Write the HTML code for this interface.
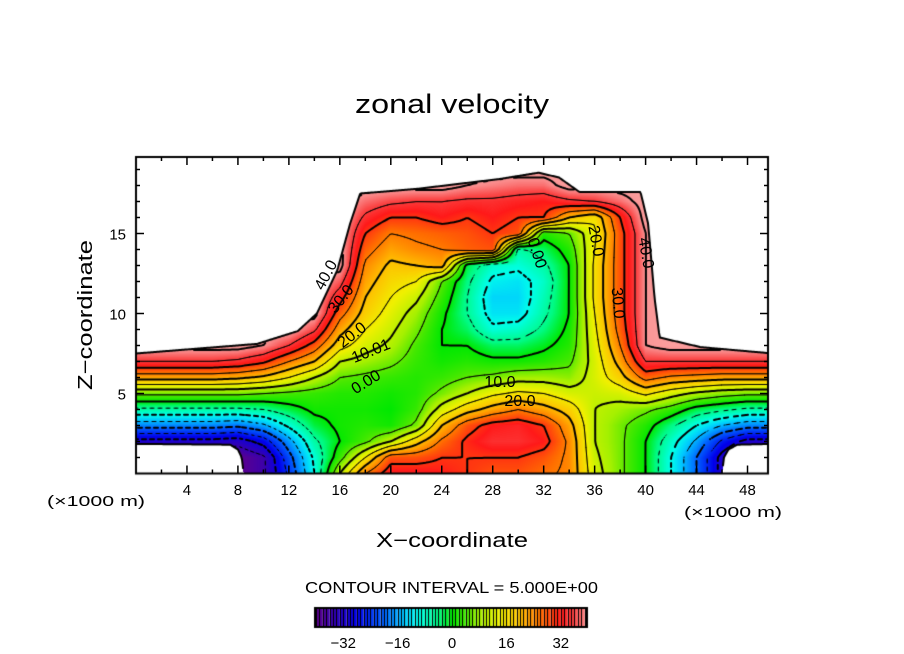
<!DOCTYPE html>
<html><head><meta charset="utf-8">
<style>
html,body{margin:0;padding:0;background:#fff;}
#wrap{position:relative;width:904px;height:654px;overflow:hidden;font-family:"Liberation Sans",sans-serif;}
canvas,svg{position:absolute;left:0;top:0;}
</style></head>
<body>
<div id="wrap">
<canvas id="field" width="904" height="654"></canvas>
<svg id="ov" width="904" height="654" font-family="Liberation Sans, sans-serif">
  <text x="355" y="113" font-size="27" textLength="194" lengthAdjust="spacingAndGlyphs">zonal velocity</text>
  <text transform="translate(92,315) rotate(-90)" text-anchor="middle" font-size="20" textLength="150" lengthAdjust="spacingAndGlyphs">Z−coordinate</text>
  <text x="376" y="547" font-size="20" textLength="152" lengthAdjust="spacingAndGlyphs">X−coordinate</text>
  <text x="47" y="506" font-size="15" textLength="98" lengthAdjust="spacingAndGlyphs">(×1000 m)</text>
  <text x="684" y="517" font-size="15" textLength="98" lengthAdjust="spacingAndGlyphs">(×1000 m)</text>
  <text x="305" y="593" font-size="16" textLength="293" lengthAdjust="spacingAndGlyphs">CONTOUR INTERVAL = 5.000E+00</text>
  <g id="ticks"></g>
  <g id="clabels" font-size="16"></g>
  <g id="cbar"></g>
</svg>
</div>
<script>
// ---- data ----
const xCoords = [0,2,4,6,8,10,12,14,16,18,20,22,24,26,28,30,32,34,36,38,40,42,44,46,48,50];
const zCoords = [0,1,2,3,4,5,6,7,8,9,10,11,12,13,14,15,16,17,18,19,20];
// zonal velocity per x column, z = 0..20
const colX0  = [-40,-40,-32,-18,-6,6,22,35,42,42,42,42,42,42,42,42,42,42,42,42,42];
const colX8  = [-40,-40,-33,-19,-6,6,21,34,42,42,42,42,42,42,42,42,42,42,42,42,42];
const colX10 = [-36,-36,-28,-16,-5,5,19,31,40,42,42,42,42,42,42,42,42,42,42,42,42];
const colX12 = [-24,-22,-17,-9,-2,4,15,25,35,42,42,42,42,42,42,42,42,42,42,42,42];
const colX14 = [-10,-9,-6,-2,1,3,10,20,28,36,42,42,42,42,42,42,42,42,42,42,42];
const colX16 = [10,3,0,1,1,2,5,10,17,22,27,32,37,42,42,42,42,42,42,42,42];
const colX18 = [25,15,4,2,1,2,4,8,12,15,18,20,22,24,27,30,34,38,42,42,42];
const colX20 = [33,28,10,1,0,1,3,6,9,11,13,15,17,19,22,25,30,36,42,42,42];
const colX22 = [33,28,18,6,3,2,2,3,4,6,8,11,15,20,24,26,30,35,42,42,42];
const colX24 = [32,30,26,20,12,6,3,1,0,0,1,3,5,22,25,27,32,35,42,42,42];
const colX26 = [30,30,31,28,18,10,5,2,0,-3,-5,-5,-4,-2,27,28,30,34,40,42,42];
const colX28 = [28,30,34,32,22,14,6,1,-3,-9,-12,-13,-11,-8,28,30,32,34,39,42,42];
const colX30 = [28,30,34,33,25,16,8,1,-3,-8,-12,-13,-12,-9,-6,28,30,33,38,42,42];
const colX32 = [26,28,32,30,22,15,8,2,-1,-4,-6,-7,-8,-6,-3,2,30,32,38,42,42];
const colX34 = [24,24,24,22,18,12,7,4,2,1,0,0,0,0,2,5,20,34,42,42,42];
const colX36 = [12,11,10,10,10,11,12,12,13,14,15,16,16,16,15,14,16,35,42,42,42];
const colX38 = [6,6,6,6,8,12,18,22,25,27,28,28,28,28,28,28,30,38,42,42,42];
const colX40 = [0,0,0,2,6,16,27,35,40,40,40,40,40,40,40,40,42,42,42,42,42];
const colX42 = [-10,-10,-8,-4,3,12,24,35,42,42,42,42,42,42,42,42,42,42,42,42,42];
const colX44 = [-20,-20,-16,-10,-2,9,23,35,42,42,42,42,42,42,42,42,42,42,42,42,42];
const colX46 = [-32,-32,-26,-15,-4,7,22,35,42,42,42,42,42,42,42,42,42,42,42,42,42];
const colX48 = [-40,-40,-32,-18,-6,6,22,35,42,42,42,42,42,42,42,42,42,42,42,42,42];
const zonal = [colX0,colX0,colX0,colX0,colX8,colX10,colX12,colX14,colX16,colX18,colX20,colX22,colX24,colX26,colX28,colX30,colX32,colX34,colX36,colX38,colX40,colX42,colX44,colX46,colX48,colX48];
// domain boundaries
const topX = [0,9.5,12.7,14.2,15.8,16.8,17.6,22.2,25.3,28.5,31.6,33.2,34.8,39.6,40.2,40.7,41.1,44.3,50];
const topZ = [7.5,8.1,8.9,10,12.7,15.6,17.5,17.8,18.1,18.4,18.8,18.5,17.6,17.6,15.6,11,8.5,7.9,7.5];
const botX = [0,7.4,8.0,8.3,8.45,46.0,46.15,46.5,47.2,50];
const botZ = [1.85,1.8,1.5,1.0,0,0,1.0,1.5,1.8,1.85];
const xTicks = [4,8,12,16,20,24,28,32,36,40,44,48];
const zTicks = [5,10,15];
const cbTicks = [-32,-16,0,16,32];
const levels = [-35,-30,-25,-20,-15,-10,-5,0,5,10,15,20,25,30,35,40];

// ---- axes ----
const X0=136, X1=768, Y0=157, Y1=473.5, PXU=12.74, PZU=16;
const sx = x => X0 + x*PXU;
const sz = z => Y1 - z*PZU;
const cbx = v => 452 + v*3.4;

function interp(xs, ys, x){
  if (x<=xs[0]) return ys[0];
  for (let i=1;i<xs.length;i++) if (x<=xs[i]) { const t=(x-xs[i-1])/(xs[i]-xs[i-1]); return ys[i-1]+t*(ys[i]-ys[i-1]); }
  return ys[ys.length-1];
}
function field(x,z){
  let gi = Math.min(Math.max(x/2,0),24.9999), gj = Math.min(Math.max(z,0),19.9999);
  const i=Math.floor(gi), j=Math.floor(gj), tx=gi-i, tz=gj-j;
  const a=zonal[i][j], b=zonal[i+1][j], c=zonal[i][j+1], d=zonal[i+1][j+1];
  return (a*(1-tx)+b*tx)*(1-tz)+(c*(1-tx)+d*tx)*tz;
}
function inside(x,z){ return z<=interp(topX,topZ,x) && z>=interp(botX,botZ,x); }
const stops=[[-40,[95,0,140]],[-34,[45,0,185]],[-28,[0,0,235]],[-20,[0,100,255]],[-14,[0,200,255]],[-10,[0,255,235]],[-4,[0,250,130]],[0,[0,232,0]],[4,[70,232,0]],[8,[165,240,0]],[14,[240,240,0]],[20,[255,190,0]],[26,[255,110,0]],[32,[255,25,25]],[36,[250,70,70]],[40,[250,150,150]],[46,[255,175,175]]];
function cmap(v){
  if (v<=stops[0][0]) return stops[0][1];
  for (let k=1;k<stops.length;k++) if (v<=stops[k][0]) { const t=(v-stops[k-1][0])/(stops[k][0]-stops[k-1][0]); const A=stops[k-1][1],B=stops[k][1]; return [A[0]+t*(B[0]-A[0]),A[1]+t*(B[1]-A[1]),A[2]+t*(B[2]-A[2])]; }
  return stops[stops.length-1][1];
}

const cv=document.getElementById('field'); const ctx=cv.getContext('2d');
const W=X1-X0, H=Math.round(Y1-Y0);
const img=ctx.createImageData(W,H);
for (let py=0;py<H;py++) for (let px=0;px<W;px++){
  const x=(px+0.5)/PXU, z=(Y1-(Y0+py+0.5))/PZU; const o=(py*W+px)*4;
  if (inside(x,z)) { const c=cmap(field(x,z)); img.data[o]=c[0]; img.data[o+1]=c[1]; img.data[o+2]=c[2]; }
  else { img.data[o]=255; img.data[o+1]=255; img.data[o+2]=255; }
  img.data[o+3]=255;
}
ctx.putImageData(img,X0,Y0);

// contours via marching squares
const S=2, NI=Math.ceil(W/S), NJ=Math.ceil(H/S);
const F=[];
for (let i=0;i<=NI;i++){ F.push([]); for (let j=0;j<=NJ;j++){ const x=(i*S)/PXU, z=(Y1-(Y0+j*S))/PZU; F[i].push(inside(x,z)?field(x,z):NaN); } }
ctx.lineCap='round';
for (const L of levels){
  ctx.beginPath();
  ctx.lineWidth = (L%10===0)?2:1;
  ctx.strokeStyle='#000';
  for (let i=0;i<NI;i++) for (let j=0;j<NJ;j++){
    const v=[F[i][j],F[i+1][j],F[i+1][j+1],F[i][j+1]];
    if (v.some(isNaN)) continue;
    if (L<0 && (Math.floor((i+j)/2)%2===1)) continue;
    const p=[[i,j],[i+1,j],[i+1,j+1],[i,j+1]];
    const pts=[];
    for (let e=0;e<4;e++){ const a=v[e], b=v[(e+1)%4]; if ((a<L)!==(b<L)){ const t=(L-a)/(b-a); const A=p[e],B=p[(e+1)%4]; pts.push([X0+(A[0]+t*(B[0]-A[0]))*S, Y0+(A[1]+t*(B[1]-A[1]))*S]); } }
    if (pts.length>=2){ ctx.moveTo(pts[0][0],pts[0][1]); ctx.lineTo(pts[1][0],pts[1][1]); }
    if (pts.length===4){ ctx.moveTo(pts[2][0],pts[2][1]); ctx.lineTo(pts[3][0],pts[3][1]); }
  }
  ctx.stroke();
}
// boundary outlines
ctx.lineWidth=2; ctx.strokeStyle='#000';
ctx.beginPath();
for (let px=0;px<=W;px++){ const x=px/PXU; const y=sz(interp(topX,topZ,x)); px?ctx.lineTo(X0+px,y):ctx.moveTo(X0+px,y); }
ctx.stroke();
ctx.beginPath(); let on=false;
for (let px=0;px<=W;px++){ const x=px/PXU; const b=interp(botX,botZ,x); if (b>0){ const y=sz(b); on?ctx.lineTo(X0+px,y):ctx.moveTo(X0+px,y); on=true;} else on=false; }
ctx.stroke();
// frame
ctx.lineWidth=2; ctx.strokeRect(X0,Y0,W,Y1-Y0);

// colorbar
for (let v=-40; v<40; v++){ const c=cmap(v+0.5); ctx.fillStyle=`rgb(${c[0]|0},${c[1]|0},${c[2]|0})`; ctx.fillRect(cbx(v),608,3.4,19); ctx.fillStyle='#000'; ctx.fillRect(Math.round(cbx(v)),608,1,19); }
ctx.lineWidth=2; ctx.strokeRect(315,608,272,19);

// ticks & labels
const NS='http://www.w3.org/2000/svg';
const tg=document.getElementById('ticks');
function line(x1,y1,x2,y2,name){ const l=document.createElementNS(NS,'line'); l.setAttribute('x1',x1);l.setAttribute('y1',y1);l.setAttribute('x2',x2);l.setAttribute('y2',y2);l.setAttribute('stroke','#000');l.setAttribute('stroke-width','1.5');
 
 
 tg.appendChild(l); }
function txt(x,y,s,size,anchor,name,parent){ const t=document.createElementNS(NS,'text'); t.setAttribute('x',x);t.setAttribute('y',y);t.setAttribute('font-size',size);t.setAttribute('text-anchor',anchor);t.textContent=s;
 
 
 (parent||tg).appendChild(t); return t; }
for (let x=2;x<50;x+=2){ const major=x%4===0, len=major?8:4; line(sx(x),Y1,sx(x),Y1-len,'x-tick'); line(sx(x),Y0,sx(x),Y0+len,'x-tick'); }
for (const x of xTicks) txt(sx(x),495,String(x),15,'middle','x-tick-label');
for (let z=1;z<20;z++){ const major=z%5===0, len=major?8:4; line(X0,sz(z),X0+len,sz(z),'z-tick'); line(X1,sz(z),X1-len,sz(z),'z-tick'); }
for (const z of zTicks) txt(126,sz(z)+6,String(z),15,'end','z-tick-label');
const cg=document.getElementById('cbar');
for (const v of cbTicks) txt(cbx(v),648,(v<0?'−':'')+Math.abs(v),15,'middle','colorbar-tick-label',cg);
// contour labels
const cl=document.getElementById('clabels');
const labs=[['40.0',326,280,-62],['30.0',341,304,-52],['20.0',352,340,-38],['10.01',371,356,-22],['0.00',366,387,-32],['10.0',500,387,0],['20.0',520,406,0],['0.00',537,258,72],['20.0',596,246,80],['30.0',618,308,85],['40.0',646,258,80]];
for (const [s,x,y,r] of labs){ const t=txt(x,y,s,16,'middle','contour-label',cl); t.setAttribute('transform',`rotate(${r},${x},${y-5})`); }
</script>
</body></html>
